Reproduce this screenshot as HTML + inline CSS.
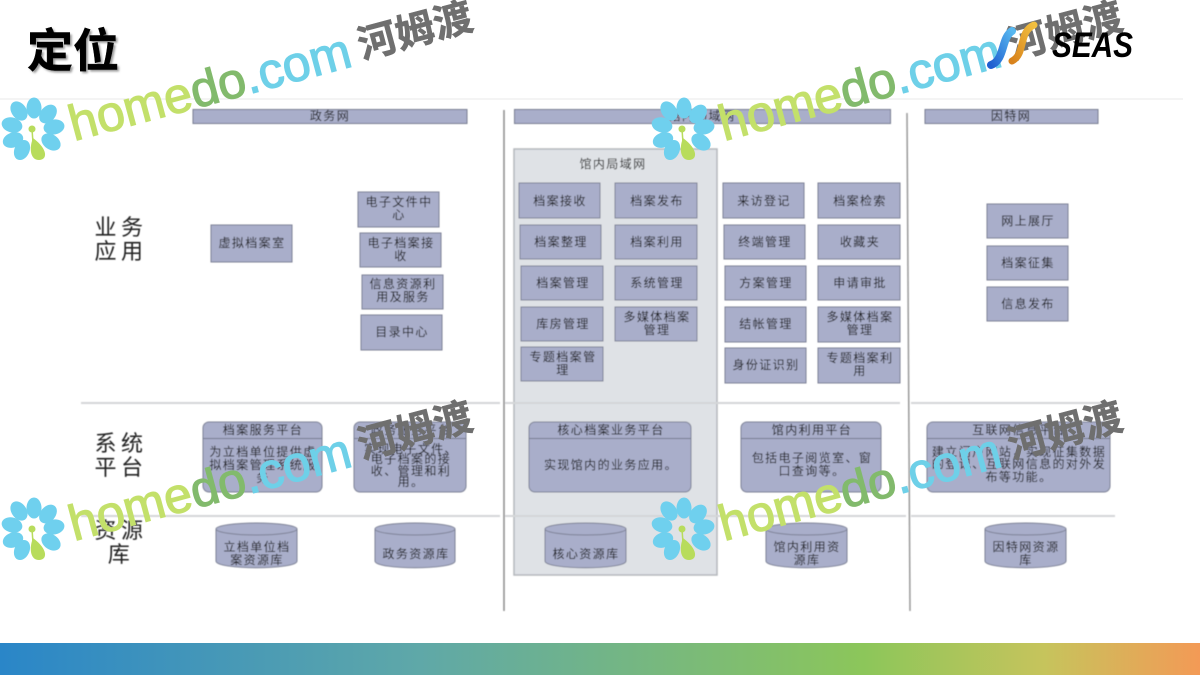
<!DOCTYPE html>
<html><head><meta charset="utf-8"><style>
html,body{margin:0;padding:0;background:#fff;width:1200px;height:675px;overflow:hidden}
svg{display:block;font-family:"Liberation Sans","Noto Sans CJK SC",sans-serif}
.b{fill:#a9aeca;stroke:#7c8094;stroke-width:1}
.h{fill:#a9aeca;stroke:#777b90;stroke-width:1}
.t text{font-size:12px;letter-spacing:1.4px;text-anchor:middle;fill:#111}
.r{font-size:22px;fill:#222;text-anchor:middle;letter-spacing:4.500px}
.l{stroke:#d4d6d8;stroke-width:2}
.wm{font-size:50px;stroke-width:1.2px}
.cn{font-size:39px;font-weight:bold;fill:#6f6f6f;stroke:#6f6f6f;stroke-width:.6px}
.home{fill:#c3e06a;stroke:#c3e06a}.do{fill:#82ba6c;stroke:#82ba6c}.com{fill:#6ed0e8;stroke:#6ed0e8}
</style></head><body>
<svg width="1200" height="675" viewBox="0 0 1200 675" xmlns="http://www.w3.org/2000/svg">
<defs>
<linearGradient id="bar" x1="0" x2="1" y1="0" y2="0">
<stop offset="0" stop-color="#2a86c8"/><stop offset=".35" stop-color="#5fa8a8"/><stop offset=".72" stop-color="#8cc65a"/><stop offset=".87" stop-color="#c6c45c"/><stop offset="1" stop-color="#f39a56"/>
</linearGradient>
<linearGradient id="lb" x1="0" x2="1" y1="1" y2="0"><stop offset="0" stop-color="#1f5fd0"/><stop offset="1" stop-color="#58b8f0"/></linearGradient>
<linearGradient id="lo" x1="0" x2="1" y1="1" y2="0"><stop offset="0" stop-color="#d8821c"/><stop offset="1" stop-color="#f2c040"/></linearGradient>
<filter id="s"><feGaussianBlur stdDeviation="0.45"/></filter>
<filter id="ts"><feGaussianBlur stdDeviation="1"/></filter>
</defs>
<rect width="1200" height="675" fill="#fff"/>
<rect x="0" y="643" width="1200" height="32" fill="url(#bar)"/>
<text x="29" y="69" font-size="46" font-weight="bold" fill="#999" filter="url(#ts)">定位</text>
<text x="27" y="67" font-size="46" font-weight="bold" fill="#000" stroke="#000" stroke-width=".5">定位</text>
<line x1="0" y1="99" x2="1183" y2="99" stroke="#f0f0f0" stroke-width="1.5"/>

<g filter="url(#s)">
<rect x="514" y="149" width="203" height="426" fill="#dfe2e6" stroke="#b4b7bc" stroke-width="1.5"/>
<line class="l" x1="81" y1="403" x2="500" y2="403"/><line class="l" x1="505" y1="403" x2="900" y2="403"/><line class="l" x1="911" y1="403" x2="1115" y2="403"/>
<line class="l" x1="81" y1="516" x2="500" y2="516"/><line class="l" x1="505" y1="516" x2="906" y2="516"/><line class="l" x1="911" y1="516" x2="1115" y2="516"/>
<line x1="504" y1="110" x2="504" y2="611" stroke="#8c8c8c" stroke-width="1.5"/>
<line x1="907" y1="113" x2="910" y2="611" stroke="#999" stroke-width="1.5"/>

<rect class="h" x="193" y="109.500" width="274" height="14"/>
<rect class="h" x="514.500" y="109.500" width="376" height="14"/>
<rect class="h" x="925" y="109.500" width="173" height="14"/>
<g class="t">
<text x="330" y="120">政务网</text><text x="702" y="120">馆内局域网</text><text x="1011" y="120">因特网</text>
<text x="613" y="168">馆内局域网</text>
</g>

<g>
<rect class="b" x="519" y="183" width="81" height="35"/><rect class="b" x="615" y="183" width="82" height="35"/><rect class="b" x="723" y="183" width="81" height="35"/><rect class="b" x="818" y="183" width="82" height="35"/>
<rect class="b" x="520" y="225" width="81" height="34"/><rect class="b" x="615" y="225" width="82" height="34"/><rect class="b" x="724" y="225" width="81" height="34"/><rect class="b" x="818" y="225" width="82" height="34"/>
<rect class="b" x="521" y="266" width="82" height="34"/><rect class="b" x="615" y="266" width="82" height="34"/><rect class="b" x="725" y="266" width="81" height="34"/><rect class="b" x="818" y="266" width="82" height="34"/>
<rect class="b" x="521" y="307" width="82" height="34"/><rect class="b" x="615" y="307" width="82" height="34"/><rect class="b" x="725" y="307" width="81" height="35"/><rect class="b" x="818" y="307" width="82" height="35"/>
<rect class="b" x="521" y="347" width="82" height="34"/><rect class="b" x="725" y="348" width="81" height="35"/><rect class="b" x="818" y="348" width="82" height="35"/>
<rect class="b" x="358" y="192" width="81" height="35"/><rect class="b" x="360" y="233" width="81" height="34"/><rect class="b" x="362" y="275" width="81" height="34"/><rect class="b" x="361" y="315" width="81" height="35"/>
<rect class="b" x="211" y="225" width="81" height="37"/>
<rect class="b" x="987" y="204" width="81" height="34"/><rect class="b" x="987" y="246" width="81" height="34"/><rect class="b" x="987" y="287" width="81" height="34"/>
</g>
<g class="t">
<text x="560" y="205">档案接收</text><text x="657" y="205">档案发布</text><text x="764" y="205">来访登记</text><text x="860" y="205">档案检索</text>
<text x="561" y="246">档案整理</text><text x="657" y="246">档案利用</text><text x="765" y="246">终端管理</text><text x="860" y="246">收藏夹</text>
<text x="563" y="287">档案管理</text><text x="657" y="287">系统管理</text><text x="766" y="287">方案管理</text><text x="860" y="287">申请审批</text>
<text x="563" y="328">库房管理</text><text x="657" y="321">多媒体档案</text><text x="657" y="334">管理</text><text x="766" y="328">结帐管理</text><text x="860" y="321">多媒体档案</text><text x="860" y="334">管理</text>
<text x="563" y="361">专题档案管</text><text x="563" y="374">理</text><text x="766" y="369">身份证识别</text><text x="860" y="362">专题档案利</text><text x="860" y="375">用</text>
<text x="399" y="206">电子文件中</text><text x="399" y="219">心</text>
<text x="401" y="247">电子档案接</text><text x="401" y="260">收</text>
<text x="403" y="288">信息资源利</text><text x="403" y="301">用及服务</text>
<text x="402" y="336">目录中心</text>
<text x="252" y="247">虚拟档案室</text>
<text x="1028" y="225">网上展厅</text><text x="1028" y="267">档案征集</text><text x="1028" y="308">信息发布</text>
</g>

<g>
<rect class="b" x="203" y="422" width="119" height="70" rx="6"/><line x1="203" y1="438.500" x2="322" y2="438.500" stroke="#74788c"/>
<rect class="b" x="354" y="422" width="112" height="70" rx="6"/><line x1="354" y1="438.500" x2="466" y2="438.500" stroke="#74788c"/>
<rect class="b" x="529" y="422" width="162" height="70" rx="6"/><line x1="529" y1="438.500" x2="691" y2="438.500" stroke="#74788c"/>
<rect class="b" x="741" y="422" width="140" height="70" rx="6"/><line x1="741" y1="438.500" x2="881" y2="438.500" stroke="#74788c"/>
<rect class="b" x="927" y="422" width="183" height="70" rx="6"/><line x1="927" y1="438.500" x2="1110" y2="438.500" stroke="#74788c"/>
</g>
<g class="t">
<text x="263" y="434">档案服务平台</text><text x="263" y="456">为立档单位提供虚</text><text x="263" y="469">拟档案管理系统服</text><text x="263" y="482">务</text>
<text x="411" y="434">政务服务平台</text><text x="411" y="453">实现电子文件、</text><text x="411" y="463">电子档案的接</text><text x="411" y="475">收、管理和利</text><text x="411" y="486">用。</text>
<text x="611" y="434">核心档案业务平台</text><text x="611" y="469">实现馆内的业务应用。</text>
<text x="812" y="434">馆内利用平台</text><text x="812" y="462">包括电子阅览室、窗</text><text x="812" y="475">口查询等。</text>
<text x="1019" y="434">互联网信息平台</text><text x="1019" y="456">建立门户网站，实现征集数据</text><text x="1019" y="468">的登记、互联网信息的对外发</text><text x="1019" y="481">布等功能。</text>
</g>

<g fill="#a9aeca" stroke="#7c8094">
<path d="M216 530V561C216 570 297 570 297 561V530Z"/><ellipse cx="256.500" cy="529" rx="40.500" ry="6"/>
<path d="M375 530V561C375 570 455 570 455 561V530Z"/><ellipse cx="415" cy="529" rx="40" ry="6"/>
<path d="M545 530V561C545 570 626 570 626 561V530Z"/><ellipse cx="585.500" cy="529" rx="40.500" ry="6"/>
<path d="M766 530V561C766 570 847 570 847 561V530Z"/><ellipse cx="806.500" cy="529" rx="40.500" ry="6"/>
<path d="M985 530V561C985 570 1066 570 1066 561V530Z"/><ellipse cx="1025.500" cy="529" rx="40.500" ry="6"/>
</g>
<g class="t">
<text x="257" y="551">立档单位档</text><text x="257" y="564">案资源库</text>
<text x="416" y="558">政务资源库</text>
<text x="586" y="558">核心资源库</text>
<text x="807" y="551">馆内利用资</text><text x="807" y="564">源库</text>
<text x="1026" y="551">因特网资源</text><text x="1026" y="564">库</text>
</g>
<text class="r" x="121" y="235">业务</text><text class="r" x="121" y="259">应用</text>
<text class="r" x="121" y="451">系统</text><text class="r" x="121" y="475">平台</text>
<text class="r" x="121" y="538">资源</text><text class="r" x="121" y="562">库</text>
</g>

<!-- watermark 1 -->
<g transform="translate(0,0)">
<g fill="#6fd0ee"><ellipse cx="34" cy="108" rx="7.500" ry="10.500"/><ellipse cx="48" cy="114" rx="7.500" ry="10.500" transform="rotate(40 48 114)"/><ellipse cx="54" cy="127" rx="7.500" ry="10.500" transform="rotate(80 54 127)"/><ellipse cx="51" cy="142" rx="7.500" ry="10.500" transform="rotate(125 51 142)"/><ellipse cx="22" cy="150" rx="7.500" ry="10.500" transform="rotate(205 22 150)"/><ellipse cx="13" cy="140" rx="7.500" ry="10.500" transform="rotate(250 13 140)"/><ellipse cx="12" cy="125" rx="7.500" ry="10.500" transform="rotate(285 12 125)"/><ellipse cx="19" cy="111" rx="7.500" ry="10.500" transform="rotate(325 19 111)"/></g>
<path d="M33 138C29 148 30 160 39 160C47 160 49 150 33 138Z" fill="#b8dc5c"/><circle cx="32" cy="129" r="3.500" fill="#b8dc5c"/><line x1="32" y1="129" x2="33" y2="143" stroke="#b8dc5c" stroke-width="1.500"/>
<text class="wm" transform="translate(74,141) rotate(-15)" textLength="290" lengthAdjust="spacingAndGlyphs" style="font-family:'Liberation Sans',sans-serif"><tspan class="home">home</tspan><tspan class="do">do</tspan><tspan class="com">.com</tspan></text>
<text class="cn" transform="translate(362,59) rotate(-15)">河姆渡</text>
</g>
<!-- watermark 2 -->
<g transform="translate(650,0)">
<g fill="#6fd0ee"><ellipse cx="34" cy="108" rx="7.500" ry="10.500"/><ellipse cx="48" cy="114" rx="7.500" ry="10.500" transform="rotate(40 48 114)"/><ellipse cx="54" cy="127" rx="7.500" ry="10.500" transform="rotate(80 54 127)"/><ellipse cx="51" cy="142" rx="7.500" ry="10.500" transform="rotate(125 51 142)"/><ellipse cx="22" cy="150" rx="7.500" ry="10.500" transform="rotate(205 22 150)"/><ellipse cx="13" cy="140" rx="7.500" ry="10.500" transform="rotate(250 13 140)"/><ellipse cx="12" cy="125" rx="7.500" ry="10.500" transform="rotate(285 12 125)"/><ellipse cx="19" cy="111" rx="7.500" ry="10.500" transform="rotate(325 19 111)"/></g>
<path d="M33 138C29 148 30 160 39 160C47 160 49 150 33 138Z" fill="#b8dc5c"/><circle cx="32" cy="129" r="3.500" fill="#b8dc5c"/><line x1="32" y1="129" x2="33" y2="143" stroke="#b8dc5c" stroke-width="1.500"/>
<text class="wm" transform="translate(74,141) rotate(-15)" textLength="290" lengthAdjust="spacingAndGlyphs" style="font-family:'Liberation Sans',sans-serif"><tspan class="home">home</tspan><tspan class="do">do</tspan><tspan class="com">.com</tspan></text>
<text class="cn" transform="translate(362,59) rotate(-15)">河姆渡</text>
</g>
<!-- watermark 3 -->
<g transform="translate(0,400)">
<g fill="#6fd0ee"><ellipse cx="34" cy="108" rx="7.500" ry="10.500"/><ellipse cx="48" cy="114" rx="7.500" ry="10.500" transform="rotate(40 48 114)"/><ellipse cx="54" cy="127" rx="7.500" ry="10.500" transform="rotate(80 54 127)"/><ellipse cx="51" cy="142" rx="7.500" ry="10.500" transform="rotate(125 51 142)"/><ellipse cx="22" cy="150" rx="7.500" ry="10.500" transform="rotate(205 22 150)"/><ellipse cx="13" cy="140" rx="7.500" ry="10.500" transform="rotate(250 13 140)"/><ellipse cx="12" cy="125" rx="7.500" ry="10.500" transform="rotate(285 12 125)"/><ellipse cx="19" cy="111" rx="7.500" ry="10.500" transform="rotate(325 19 111)"/></g>
<path d="M33 138C29 148 30 160 39 160C47 160 49 150 33 138Z" fill="#b8dc5c"/><circle cx="32" cy="129" r="3.500" fill="#b8dc5c"/><line x1="32" y1="129" x2="33" y2="143" stroke="#b8dc5c" stroke-width="1.500"/>
<text class="wm" transform="translate(74,141) rotate(-15)" textLength="290" lengthAdjust="spacingAndGlyphs" style="font-family:'Liberation Sans',sans-serif"><tspan class="home">home</tspan><tspan class="do">do</tspan><tspan class="com">.com</tspan></text>
<text class="cn" transform="translate(362,59) rotate(-15)">河姆渡</text>
</g>
<!-- watermark 4 -->
<g transform="translate(650,400)">
<g fill="#6fd0ee"><ellipse cx="34" cy="108" rx="7.500" ry="10.500"/><ellipse cx="48" cy="114" rx="7.500" ry="10.500" transform="rotate(40 48 114)"/><ellipse cx="54" cy="127" rx="7.500" ry="10.500" transform="rotate(80 54 127)"/><ellipse cx="51" cy="142" rx="7.500" ry="10.500" transform="rotate(125 51 142)"/><ellipse cx="22" cy="150" rx="7.500" ry="10.500" transform="rotate(205 22 150)"/><ellipse cx="13" cy="140" rx="7.500" ry="10.500" transform="rotate(250 13 140)"/><ellipse cx="12" cy="125" rx="7.500" ry="10.500" transform="rotate(285 12 125)"/><ellipse cx="19" cy="111" rx="7.500" ry="10.500" transform="rotate(325 19 111)"/></g>
<path d="M33 138C29 148 30 160 39 160C47 160 49 150 33 138Z" fill="#b8dc5c"/><circle cx="32" cy="129" r="3.500" fill="#b8dc5c"/><line x1="32" y1="129" x2="33" y2="143" stroke="#b8dc5c" stroke-width="1.500"/>
<text class="wm" transform="translate(74,141) rotate(-15)" textLength="290" lengthAdjust="spacingAndGlyphs" style="font-family:'Liberation Sans',sans-serif"><tspan class="home">home</tspan><tspan class="do">do</tspan><tspan class="com">.com</tspan></text>
<text class="cn" transform="translate(362,59) rotate(-15)">河姆渡</text>
</g>
<path d="M991 65C1005 60 1001 38 1012 31" fill="none" stroke="url(#lb)" stroke-width="8" stroke-linecap="round"/>
<path d="M1012 61C1026 54 1018 32 1034 25" fill="none" stroke="url(#lo)" stroke-width="7" stroke-linecap="round"/>
<text x="1052" y="57" font-size="35" font-weight="bold" font-style="italic" fill="#000" textLength="81" lengthAdjust="spacingAndGlyphs" style="font-family:'Liberation Sans',sans-serif">SEAS</text>
</svg>
</body></html>
